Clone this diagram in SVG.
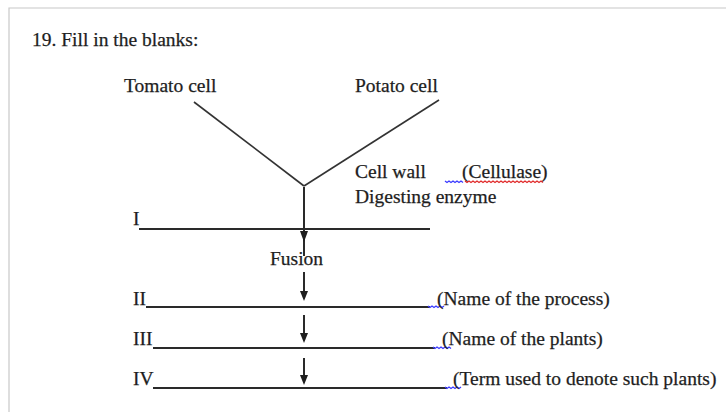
<svg xmlns="http://www.w3.org/2000/svg" width="726" height="412" viewBox="0 0 726 412">
<style>
text{font-family:"Liberation Serif","Times New Roman",serif;font-size:19.5px;fill:#1e1e1e;stroke:#1e1e1e;stroke-width:0.25}
.ln{stroke:#2a2a2a;stroke-width:2;fill:none}
.thin{stroke:#333;stroke-width:1.6;fill:none}
.blue{stroke:#3a3aff;stroke-width:1.3;fill:none}
.red{stroke:#e02a2a;stroke-width:1.3;fill:none}
.frame{stroke:#c8c8c8;stroke-width:1.2;fill:none}
.head{fill:#1e1e1e}
</style>
<rect width="726" height="412" fill="#ffffff"/>
<path class="frame" d="M9,412 V8 H726"/>
<text x="32" y="46">19. Fill in the blanks:</text>
<g id="tomato"><text x="124" y="92">Tomato cell</text></g>
<g id="potato"><text x="355" y="92">Potato cell</text></g>
<g id="enzyme">
<text x="355" y="178">Cell wall</text>
<text x="462" y="178">(Cellulase)</text>
<path class="blue" d="M445,181 l2,1.5 l2,-1.5 l2,1.5 l2,-1.5 l2,1.5 l2,-1.5 l2,1.5 l2,-1.5 l2,1.5"/>
<path class="red" d="M465,181 l2,1.5 l2,-1.5 l2,1.5 l2,-1.5 l2,1.5 l2,-1.5 l2,1.5 l2,-1.5 l2,1.5 l2,-1.5 l2,1.5 l2,-1.5 l2,1.5 l2,-1.5 l2,1.5 l2,-1.5 l2,1.5 l2,-1.5 l2,1.5 l2,-1.5 l2,1.5 l2,-1.5 l2,1.5 l2,-1.5 l2,1.5 l2,-1.5 l2,1.5 l2,-1.5 l2,1.5 l2,-1.5 l2,1.5 l2,-1.5 l2,1.5 l2,-1.5 l2,1.5 l2,-1.5 l2,1.5 l2,-1.5 l2,1.5"/>
<text x="355" y="203">Digesting enzyme</text>
</g>
<g id="blank-I">
<text x="133" y="225">I</text>
<line class="ln" x1="139" y1="229" x2="430" y2="229"/>
</g>
<g id="fusion"><text x="270" y="265">Fusion</text></g>
<g id="blank-II">
<text x="133" y="305">II</text>
<line class="ln" x1="146" y1="307" x2="430" y2="307"/>
<path class="blue" d="M428,306 l2,1.5 l2,-1.5 l2,1.5 l2,-1.5 l2,1.5 l2,-1.5 l2,1.5 l2,-1.5"/>
<text x="437" y="305">(Name of the process)</text>
</g>
<g id="blank-III">
<text x="133" y="345">III</text>
<line class="ln" x1="153" y1="348" x2="435" y2="348"/>
<path class="blue" d="M433,347 l2,1.5 l2,-1.5 l2,1.5 l2,-1.5 l2,1.5 l2,-1.5 l2,1.5 l2,-1.5 l2,1.5"/>
<text x="442" y="345">(Name of the plants)</text>
</g>
<g id="blank-IV">
<text x="133" y="385">IV</text>
<line class="ln" x1="153" y1="388" x2="447" y2="388"/>
<path class="blue" d="M445,387 l2,1.5 l2,-1.5 l2,1.5 l2,-1.5 l2,1.5 l2,-1.5 l2,1.5 l2,-1.5"/>
<text x="453" y="385">(Term used to denote such plants)</text>
</g>
<g id="connectors">
<line class="thin" x1="194" y1="102" x2="304" y2="186"/>
<line class="thin" x1="439" y1="100" x2="304" y2="186"/>
<line class="ln" x1="304" y1="187" x2="304" y2="256"/>
<path class="head" d="M300,231 L308,231 L304,242 Z"/>
<line class="ln" x1="304" y1="272" x2="304" y2="293"/>
<path class="head" d="M300,291 L308,291 L304,301 Z"/>
<line class="ln" x1="304" y1="315" x2="304" y2="335"/>
<path class="head" d="M300,333 L308,333 L304,343 Z"/>
<line class="ln" x1="304" y1="358" x2="304" y2="377"/>
<path class="head" d="M300,375 L308,375 L304,385 Z"/>
</g>
</svg>
